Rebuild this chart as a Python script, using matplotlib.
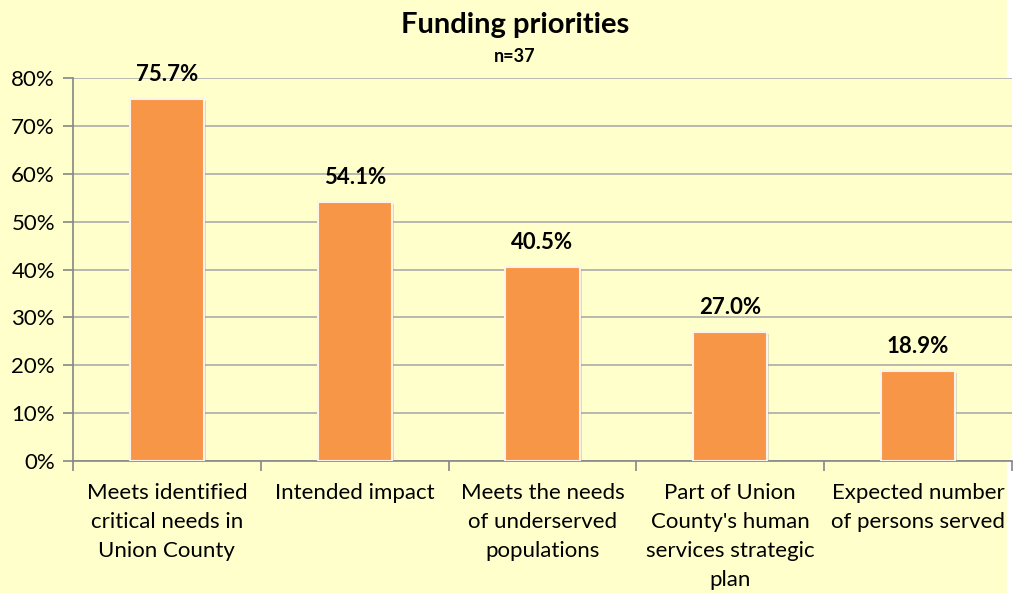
import matplotlib
matplotlib.use("Agg")
import matplotlib.pyplot as plt
import matplotlib.patheffects as pe
from matplotlib.patches import Rectangle
from matplotlib.ticker import FuncFormatter, MultipleLocator, FixedLocator
import numpy as np

# Survey results: share of respondents naming each funding priority
categories = [
    "Meets identified\ncritical needs in\nUnion County",
    "Intended impact",
    "Meets the needs\nof underserved\npopulations",
    "Part of Union\nCounty's human\nservices strategic\nplan",
    "Expected number\nof persons served",
]
percent = [75.7, 54.1, 40.5, 27.0, 18.9]

title = "Funding priorities"
subtitle = "n=37"

BG = "#FFFFCC"
BAR = "#F79646"
GRID = "#ABABAB"
AXIS = "#868686"

plt.rcParams["font.family"] = ["Lato", "DejaVu Sans"]

fig = plt.figure(figsize=(10.16, 5.93), dpi=100)
fig.patch.set_facecolor(BG)
# white strip along the right edge of the canvas
fig.patches.append(Rectangle((1007 / 1016, 0), 1 - 1007 / 1016, 1,
                             transform=fig.transFigure, color="white", zorder=-1))

ax = fig.add_axes([73 / 1016, 1 - 461 / 593, (1012 - 73) / 1016, (461 - 78) / 593])
ax.set_facecolor(BG)

x = np.arange(len(categories))
bars = ax.bar(x, percent, width=0.395, color=BAR, edgecolor="#FDF3EA",
              linewidth=1.5, zorder=3)
for b in bars:
    b.set_path_effects([pe.SimplePatchShadow(offset=(1.5, -1.5), shadow_rgbFace="#9a9a9a",
                                             alpha=0.35), pe.Normal()])

for xi, v in zip(x, percent):
    ax.annotate(f"{v:.1f}%", (xi, v), xytext=(0, 17.5), textcoords="offset points",
                ha="center", va="center", fontsize=16, fontweight="bold", color="black")

ax.set_xlim(-0.5, len(categories) - 0.5)
ax.set_ylim(0, 80)
ax.yaxis.set_major_locator(MultipleLocator(10))
ax.yaxis.set_major_formatter(FuncFormatter(lambda v, _: f"{v:.0f}%"))
ax.grid(axis="y", color=GRID, linewidth=1.2, zorder=0)

ax.set_xticks(x)
ax.set_xticklabels(categories, fontsize=16, linespacing=1.55)
ax.xaxis.set_minor_locator(FixedLocator(np.arange(-0.5, len(categories), 1.0)))
ax.tick_params(axis="x", which="major", length=0, pad=16)
ax.tick_params(axis="x", which="minor", length=7, width=1.2, color=AXIS)
ax.tick_params(axis="y", length=7, width=1.2, color=AXIS, labelsize=16, pad=6)

for side in ("top", "right"):
    ax.spines[side].set_visible(False)
for side in ("left", "bottom"):
    ax.spines[side].set_color(AXIS)
    ax.spines[side].set_linewidth(1.2)

fig.text(515 / 1016, 1 - 25 / 593, title, ha="center", va="center",
         fontsize=21, fontweight="bold")
fig.text(515 / 1016, 1 - 57 / 593, subtitle, ha="center", va="center",
         fontsize=13, fontweight="bold")

fig.savefig("out.png", dpi=100, facecolor=fig.get_facecolor())
